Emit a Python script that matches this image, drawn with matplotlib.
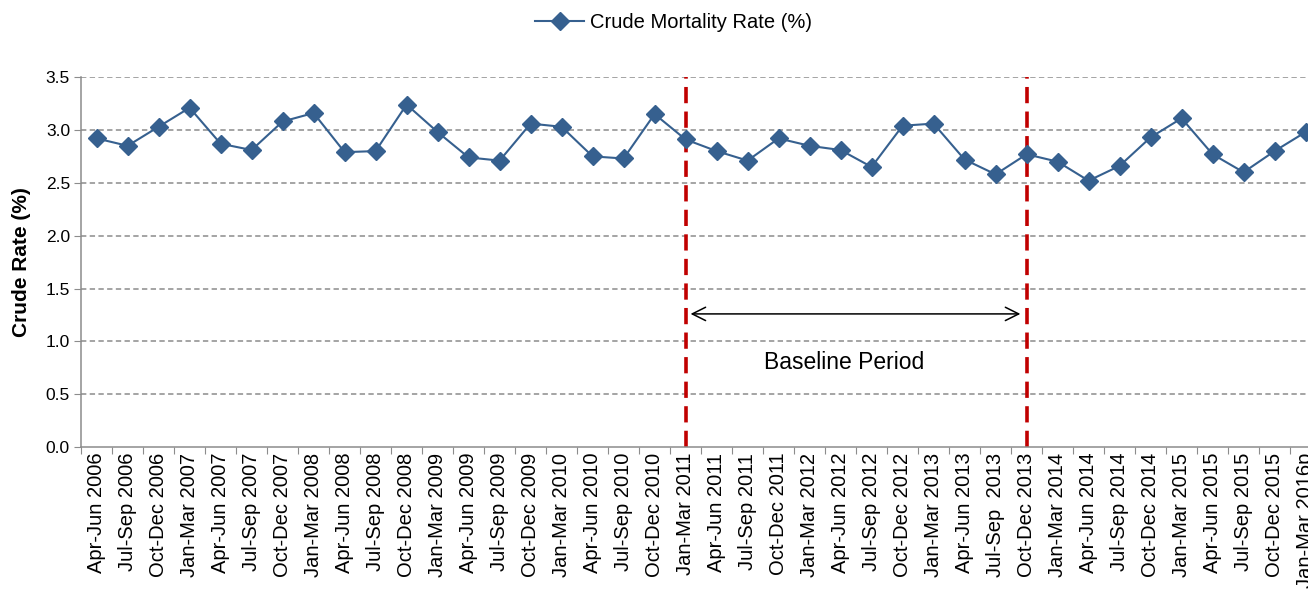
import matplotlib.pyplot as plt
import numpy as np

plt.rcParams["font.family"] = ["Liberation Sans", "DejaVu Sans"]

quarters = [
    "Apr-Jun 2006", "Jul-Sep 2006", "Oct-Dec 2006",
    "Jan-Mar 2007", "Apr-Jun 2007", "Jul-Sep 2007", "Oct-Dec 2007",
    "Jan-Mar 2008", "Apr-Jun 2008", "Jul-Sep 2008", "Oct-Dec 2008",
    "Jan-Mar 2009", "Apr-Jun 2009", "Jul-Sep 2009", "Oct-Dec 2009",
    "Jan-Mar 2010", "Apr-Jun 2010", "Jul-Sep 2010", "Oct-Dec 2010",
    "Jan-Mar 2011", "Apr-Jun 2011", "Jul-Sep 2011", "Oct-Dec 2011",
    "Jan-Mar 2012", "Apr-Jun 2012", "Jul-Sep 2012", "Oct-Dec 2012",
    "Jan-Mar 2013", "Apr-Jun 2013", "Jul-Sep  2013", "Oct-Dec 2013",
    "Jan-Mar 2014", "Apr-Jun 2014", "Jul-Sep 2014", "Oct-Dec 2014",
    "Jan-Mar 2015", "Apr-Jun 2015", "Jul-Sep 2015", "Oct-Dec 2015",
    "Jan-Mar 2016p",
]
crude_rate = [
    2.92, 2.85, 3.03,
    3.21, 2.87, 2.81, 3.08,
    3.16, 2.79, 2.80, 3.24,
    2.98, 2.74, 2.71, 3.06,
    3.03, 2.75, 2.73, 3.15,
    2.91, 2.80, 2.71, 2.92,
    2.85, 2.81, 2.65, 3.04,
    3.06, 2.72, 2.58, 2.77,
    2.70, 2.52, 2.66, 2.93,
    3.11, 2.77, 2.60, 2.80,
    2.98,
]
baseline_start = "Jan-Mar 2011"
baseline_end = "Oct-Dec 2013"

x = np.arange(len(quarters))
i0 = quarters.index(baseline_start)
i1 = quarters.index(baseline_end)
grey = "#8c8c8c"

fig = plt.figure(figsize=(13.08, 5.93), dpi=100)
ax = fig.add_axes([0.062, 0.246, 0.948, 0.624])

ax.set_xlim(-0.5, len(quarters) - 0.5)
ax.set_ylim(0, 3.5)
yt = np.arange(0, 3.51, 0.5)
ax.set_yticks(yt)
ax.set_yticklabels([f"{v:.1f}" for v in yt], fontsize=12.5)
for v in yt[1:]:
    ax.axhline(v, color=grey, lw=1.1, ls=(0, (3.5, 2.2)), zorder=0)

ax.plot(x, crude_rate, color="#36608f", lw=1.5, marker="D", markersize=9,
        label="Crude Mortality Rate (%)", zorder=3)

for i in (i0, i1):
    ax.axvline(i, color="#c00000", lw=2.6, ls=(0, (4.5, 2.3)), zorder=2)

ax.annotate("", xy=(i0 + 0.16, 1.26), xytext=(i1 - 0.2, 1.26),
            arrowprops=dict(arrowstyle="<->", color="black", lw=1.1,
                            mutation_scale=24, shrinkA=0, shrinkB=0))
ax.text((i0 + i1) / 2 - 0.4, 0.80, "Baseline Period", fontsize=16.5,
        ha="center", va="center")

# category ticks between labels, labels at centres
ax.set_xticks(np.arange(-0.5, len(quarters), 1.0))
ax.set_xticklabels([])
ax.tick_params(axis="x", which="major", length=5, color=grey, direction="out")
ax.set_xticks(x, minor=True)
ax.set_xticklabels(quarters, minor=True, rotation=90, fontsize=14.5)
ax.tick_params(axis="x", which="minor", length=0, pad=4)
ax.tick_params(axis="y", length=5, color=grey, direction="out", pad=3)

for s in ("top", "right"):
    ax.spines[s].set_visible(False)
for s in ("left", "bottom"):
    ax.spines[s].set_color(grey)
    ax.spines[s].set_linewidth(1.1)

ax.set_ylabel("Crude Rate (%)", fontsize=15, fontweight="bold")
ax.yaxis.set_label_coords(-0.040, 0.5)

fig.legend(loc="center", bbox_to_anchor=(0.515, 0.962), frameon=False,
           fontsize=14.5, handlelength=2.4, handletextpad=0.3)

fig.savefig("out.png", dpi=100)
plt.close(fig)
